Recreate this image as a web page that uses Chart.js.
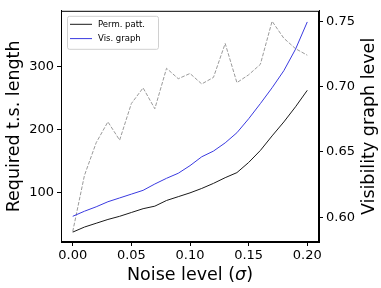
<!DOCTYPE html>
<html>
<head>
<meta charset="utf-8">
<script src="https://cdn.jsdelivr.net/npm/chart.js@4/dist/chart.umd.min.js"></script>
<style>
  html, body { margin: 0; padding: 0; background: #fff; }
  #wrap { width: 381px; height: 288px; }
</style>
</head>
<body>
<div id="wrap"><canvas id="c" width="381" height="288"></canvas></div>
<script>
// noise levels (sigma)
const noise = [0.00, 0.01, 0.02, 0.03, 0.04, 0.05, 0.06, 0.07, 0.08, 0.09, 0.10,
               0.11, 0.12, 0.13, 0.14, 0.15, 0.16, 0.17, 0.18, 0.19, 0.20];

// required time series length (left axis)
const permPatt = [38, 46, 52, 58, 63, 69, 75, 79, 88, 94, 100,
                  107, 115, 124, 132, 148, 167, 190, 212, 236, 262];
const visGraph = [63, 71, 78, 86, 92, 98, 104, 114, 123, 131, 143,
                  157, 166, 179, 195, 217, 241, 266, 293, 327, 370];

// visibility graph level (right axis)
const vgLevel = [0.589, 0.632, 0.657, 0.673, 0.659, 0.687, 0.699, 0.683, 0.714, 0.706, 0.710,
                 0.702, 0.707, 0.733, 0.703, 0.709, 0.717, 0.750, 0.737, 0.729, 0.724];

const xTicks = [0, 0.05, 0.10, 0.15, 0.20];
const yLeftTicks = [100, 200, 300];
const yRightTicks = [0.60, 0.65, 0.70, 0.75];

const rightTitle = 'Visibility graph level';
// x title pieces: the sigma is set in italics like matplotlib mathtext
const xTitleParts = [['Noise level (', false], ['σ', true], [')', false]];

const FONT = 'DejaVu Sans';
const TITLE_SIZE = 17.5;

function pts(ys) {
  return ys.map((y, i) => ({ x: noise[i], y: y }));
}

// frame, axis titles that Chart.js can't style, and the legend box
const framePlugin = {
  id: 'frame',
  afterDraw(chart) {
    const ctx = chart.ctx;
    const a = chart.chartArea;
    ctx.save();
    ctx.strokeStyle = '#000';
    ctx.lineWidth = 1;
    ctx.strokeRect(a.left + 0.5, a.top + 0.5, a.right - a.left - 1, a.bottom - a.top - 1);

    ctx.fillStyle = '#000';
    ctx.textBaseline = 'middle';

    // x axis title
    const fonts = xTitleParts.map(p => (p[1] ? 'italic ' : '') + TITLE_SIZE + 'px "' + FONT + '"');
    let total = 0;
    const widths = xTitleParts.map((p, i) => { ctx.font = fonts[i]; const w = ctx.measureText(p[0]).width; total += w; return w; });
    let x = (a.left + a.right) / 2 - total / 2;
    ctx.textAlign = 'left';
    xTitleParts.forEach((p, i) => {
      ctx.font = fonts[i];
      ctx.fillText(p[0], x, 275);
      x += widths[i];
    });

    // right axis title, reading bottom-up
    ctx.save();
    ctx.translate(369, (a.top + a.bottom) / 2);
    ctx.rotate(-Math.PI / 2);
    ctx.font = TITLE_SIZE + 'px "' + FONT + '"';
    ctx.textAlign = 'center';
    ctx.fillText(rightTitle, 0, 0);
    ctx.restore();

    // legend
    const lx = a.left + 6, ly = a.top + 5, lw = 91, lh = 33;
    ctx.fillStyle = 'rgba(255,255,255,0.8)';
    ctx.strokeStyle = '#d0d0d0';
    ctx.beginPath();
    ctx.roundRect(lx + 0.5, ly + 0.5, lw, lh, 2);
    ctx.fill();
    ctx.stroke();
    const items = chart.data.datasets.filter(d => d.showInLegend);
    ctx.font = '8.5px "' + FONT + '"';
    ctx.textAlign = 'left';
    items.forEach((d, i) => {
      const y = ly + 8.5 + i * 14.3;
      ctx.strokeStyle = d.borderColor;
      ctx.lineWidth = 1;
      ctx.beginPath();
      ctx.moveTo(lx + 3, y);
      ctx.lineTo(lx + 25, y);
      ctx.stroke();
      ctx.fillStyle = '#000';
      ctx.fillText(d.label, lx + 31, y);
    });
    ctx.restore();
  }
};

const tickFont = { family: FONT, size: 13 };
const titleFont = { family: FONT, size: TITLE_SIZE };

new Chart(document.getElementById('c'), {
  type: 'line',
  data: {
    datasets: [
      {
        label: 'Perm. patt.',
        data: pts(permPatt),
        borderColor: '#1a1a1a',
        borderWidth: 1,
        pointRadius: 0,
        yAxisID: 'y',
        showInLegend: true
      },
      {
        label: 'Vis. graph',
        data: pts(visGraph),
        borderColor: '#3a3ae0',
        borderWidth: 1,
        pointRadius: 0,
        yAxisID: 'y',
        showInLegend: true
      },
      {
        label: 'VG level',
        data: pts(vgLevel),
        borderColor: '#9a9a9a',
        borderWidth: 1,
        borderDash: [3.7, 1.6],
        pointRadius: 0,
        yAxisID: 'y1',
        showInLegend: false
      }
    ]
  },
  options: {
    responsive: false,
    animation: false,
    layout: { padding: { top: 10, left: 0, right: 0, bottom: 0 } },
    plugins: {
      legend: { display: false },
      tooltip: { enabled: false }
    },
    scales: {
      x: {
        type: 'linear',
        min: -0.01,
        max: 0.21,
        afterBuildTicks: s => { s.ticks = xTicks.map(v => ({ value: v })); },
        afterFit: s => { s.height = 46; },
        ticks: {
          color: '#000', font: tickFont, padding: 2, maxRotation: 0,
          callback: v => v.toFixed(2)
        },
        grid: { drawOnChartArea: false, drawTicks: true, tickLength: 4, color: '#000' },
        border: { display: true, color: '#000', width: 1 }
      },
      y: {
        position: 'left',
        min: 22.4,
        max: 387.6,
        afterBuildTicks: s => { s.ticks = yLeftTicks.map(v => ({ value: v })); },
        afterFit: s => { s.width = 61; },
        ticks: { color: '#000', font: tickFont, padding: 3, callback: v => String(v) },
        grid: { drawOnChartArea: false, drawTicks: true, tickLength: 4, color: '#000' },
        border: { display: true, color: '#000', width: 1 },
        title: { display: true, text: 'Required t.s. length', color: '#000', font: titleFont, padding: { top: 4, bottom: 0 } }
      },
      y1: {
        position: 'right',
        min: 0.581,
        max: 0.758,
        afterBuildTicks: s => { s.ticks = yRightTicks.map(v => ({ value: v })); },
        afterFit: s => { s.width = 62; },
        ticks: { color: '#000', font: tickFont, padding: 3, callback: v => v.toFixed(2) },
        grid: { drawOnChartArea: false, drawTicks: true, tickLength: 4, color: '#000' },
        border: { display: true, color: '#000', width: 1 }
      }
    }
  },
  plugins: [framePlugin]
});
</script>
</body>
</html>
